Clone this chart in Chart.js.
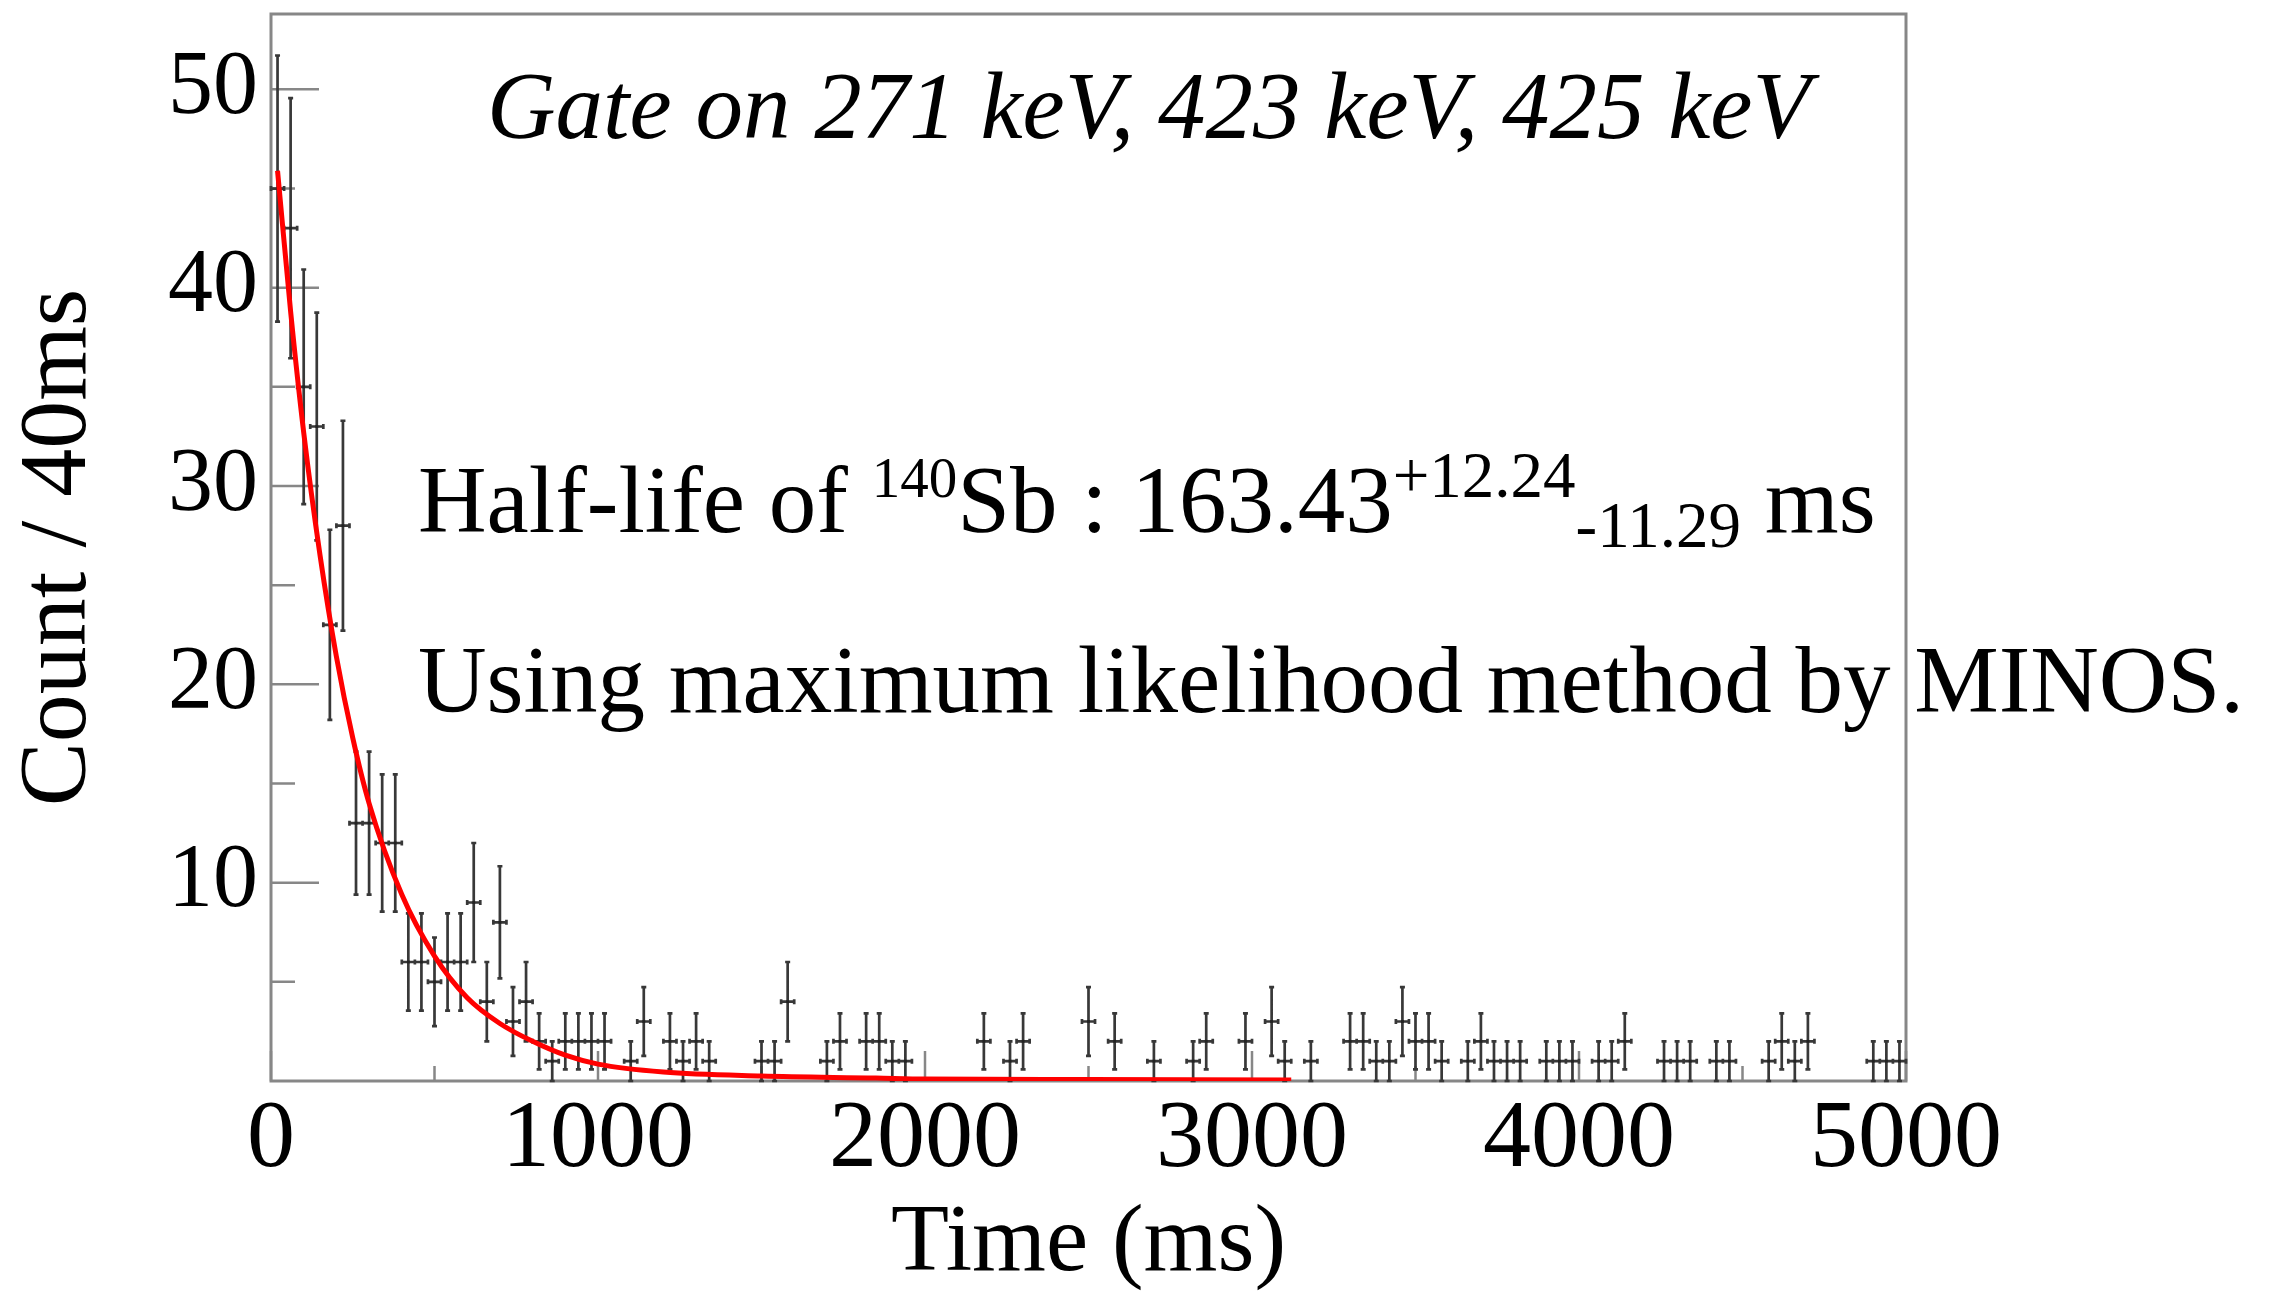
<!DOCTYPE html>
<html>
<head>
<meta charset="utf-8">
<title>140Sb half-life</title>
<script src="https://cdn.jsdelivr.net/npm/chart.js@4.4.1/dist/chart.umd.min.js"></script>
<style>
  html, body { margin: 0; padding: 0; background: #fff; }
  #wrap { width: 2285px; height: 1295px; }
</style>
</head>
<body>
<div id="wrap"><canvas id="decay" width="2285" height="1295"></canvas></div>
<script>
// counts per 40 ms bin (first bin is 0-40 ms)
const binWidth = 40;
const counts = [
  45, 43, 35, 33, 23, 28, 13, 13, 12, 12,
  6, 6, 5, 6, 6, 9, 4, 8, 3, 4,
  2, 1, 2, 2, 2, 2, 0, 1, 3, 0,
  2, 1, 2, 1, 0, 0, 0, 1, 1, 4,
  0, 0, 1, 2, 0, 2, 2, 1, 1, 0,
  0, 0, 0, 0, 2, 0, 1, 2, 0, 0,
  0, 0, 3, 0, 2, 0, 0, 1, 0, 0,
  1, 2, 0, 0, 2, 0, 3, 1, 0, 1,
  0, 0, 2, 2, 1, 1, 3, 2, 2, 1,
  0, 1, 2, 1, 1, 1, 0, 1, 1, 1,
  0, 1, 1, 2, 0, 0, 1, 1, 1, 0,
  1, 1, 0, 0, 1, 2, 1, 2, 0, 0,
  0, 0, 1, 1, 1
];

// red fit curve
const fitTime = [20, 60, 100, 150, 200, 250, 300, 400, 500, 600, 700, 800, 900, 1000, 1200, 1500, 1850, 2000, 2500, 3120];
const fitCount = [45.9, 38.8, 32.7, 26.5, 21.4, 17.3, 14.0, 9.4, 6.3, 4.2, 2.9, 2.0, 1.3, 0.85, 0.45, 0.25, 0.15, 0.1, 0.07, 0.05];

const xTicks = [0, 1000, 2000, 3000, 4000, 5000];
const xMinorTicks = [500, 1500, 2500, 3500, 4500];
const yTicks = [10, 20, 30, 40, 50];
const yMinorTicks = [5, 15, 25, 35, 45];

const gateLabel = 'Gate on 271 keV, 423 keV, 425 keV';
const halfLifeParts = [
  { text: 'Half-life of ', kind: 'main' },
  { text: '140', kind: 'sup' },
  { text: 'Sb : 163.43', kind: 'main' },
  { text: '+12.24', kind: 'sup' },
  { text: '-11.29', kind: 'sub' },
  { text: ' ms', kind: 'main' },
];
const methodLabel = 'Using maximum likelihood method by MINOS.';

const serif = 'Liberation Serif';

// empty bins are not drawn, like ROOT does
const points = counts
  .map((c, i) => ({ x: binWidth / 2 + i * binWidth, y: c }))
  .filter((p) => p.y > 0);
const fitPoints = fitTime.map((t, i) => ({ x: t, y: fitCount[i] }));

// grey ROOT frame with the tick marks pointing inwards
const frame = {
  id: 'frame',
  beforeDatasetsDraw(chart) {
    const { ctx, chartArea: a, scales: { x, y } } = chart;
    ctx.save();
    ctx.strokeStyle = '#878787';
    ctx.lineWidth = 3;
    ctx.strokeRect(a.left, a.top, a.right - a.left, a.bottom - a.top);
    ctx.lineWidth = 2.5;
    ctx.beginPath();
    yTicks.forEach((v) => {
      const py = y.getPixelForValue(v);
      ctx.moveTo(a.left, py);
      ctx.lineTo(a.left + 48, py);
    });
    yMinorTicks.forEach((v) => {
      const py = y.getPixelForValue(v);
      ctx.moveTo(a.left, py);
      ctx.lineTo(a.left + 24, py);
    });
    xTicks.forEach((v) => {
      const px = x.getPixelForValue(v);
      ctx.moveTo(px, a.bottom);
      ctx.lineTo(px, a.bottom - 30);
    });
    xMinorTicks.forEach((v) => {
      const px = x.getPixelForValue(v);
      ctx.moveTo(px, a.bottom);
      ctx.lineTo(px, a.bottom - 15);
    });
    ctx.stroke();
    ctx.restore();
  },
};

// poisson error bars (sqrt N) and bin-width bars, with small caps
const errorBars = {
  id: 'errorBars',
  beforeDatasetsDraw(chart) {
    const { ctx, scales: { x, y } } = chart;
    const cap = 2.5;
    ctx.save();
    ctx.strokeStyle = '#383838';
    ctx.lineWidth = 2.7;
    ctx.beginPath();
    chart.data.datasets[0].data.forEach((p) => {
      const err = Math.sqrt(p.y);
      const px = x.getPixelForValue(p.x);
      const x0 = x.getPixelForValue(p.x - binWidth / 2);
      const x1 = x.getPixelForValue(p.x + binWidth / 2);
      const py = y.getPixelForValue(p.y);
      const yTop = y.getPixelForValue(p.y + err);
      const yBot = y.getPixelForValue(Math.max(p.y - err, 0));
      ctx.moveTo(px, yTop);
      ctx.lineTo(px, yBot);
      ctx.moveTo(x0, py);
      ctx.lineTo(x1, py);
      ctx.moveTo(px - cap, yTop);
      ctx.lineTo(px + cap, yTop);
      ctx.moveTo(px - cap, yBot);
      ctx.lineTo(px + cap, yBot);
      ctx.moveTo(x0, py - cap);
      ctx.lineTo(x0, py + cap);
      ctx.moveTo(x1, py - cap);
      ctx.lineTo(x1, py + cap);
    });
    ctx.stroke();
    ctx.restore();
  },
};

// the text written over the plot
const annotations = {
  id: 'annotations',
  afterDraw(chart) {
    const { ctx } = chart;
    ctx.save();
    ctx.fillStyle = '#000';
    ctx.textBaseline = 'alphabetic';
    ctx.textAlign = 'left';

    ctx.font = `italic 95px "${serif}"`;
    ctx.fillText(gateLabel, 487, 138);

    let xPos = 418;
    halfLifeParts.forEach((part, i) => {
      let yPos = 532;
      if (part.kind === 'main') {
        ctx.font = `95px "${serif}"`;
      } else {
        // the isotope number is a bit smaller than the error values
        ctx.font = `${i === 1 ? 57 : 65}px "${serif}"`;
        yPos = part.kind === 'sup' ? 497 : 547;
      }
      ctx.fillText(part.text, xPos, yPos);
      xPos += ctx.measureText(part.text).width;
    });

    ctx.font = `95px "${serif}"`;
    ctx.fillText(methodLabel, 418, 712);
    ctx.restore();
  },
};

new Chart(document.getElementById('decay'), {
  type: 'scatter',
  data: {
    datasets: [
      {
        label: 'Count / 40ms',
        data: points,
        showLine: false,
        pointStyle: 'rect',
        pointRadius: 2,
        pointBackgroundColor: '#222',
        pointBorderWidth: 0,
        order: 1,
      },
      {
        label: 'fit',
        data: fitPoints,
        showLine: true,
        borderColor: '#ff0000',
        borderWidth: 5,
        pointRadius: 0,
        cubicInterpolationMode: 'monotone',
        order: 0,
      },
    ],
  },
  options: {
    responsive: false,
    devicePixelRatio: 1,
    animation: false,
    layout: { padding: { left: 0, right: 379, top: 14, bottom: 0 } },
    plugins: {
      legend: { display: false },
      tooltip: { enabled: false },
    },
    scales: {
      x: {
        type: 'linear',
        min: 0,
        max: 5000,
        afterBuildTicks: (s) => {
          s.ticks = xTicks.map((v) => ({ value: v }));
        },
        afterFit: (s) => {
          s.height = 214;
          s.paddingLeft = 0;
          s.paddingRight = 0;
        },
        grid: { display: false, drawTicks: false },
        border: { display: false },
        ticks: {
          autoSkip: false,
          maxRotation: 0,
          padding: 2,
          color: '#000',
          font: { family: serif, size: 96 },
          callback: (v) => String(v),
        },
        title: {
          display: true,
          text: 'Time (ms)',
          color: '#000',
          font: { family: serif, size: 95, lineHeight: 1.05 },
          padding: 0,
        },
      },
      y: {
        type: 'linear',
        min: 0,
        max: 53.8,
        afterBuildTicks: (s) => {
          s.ticks = yTicks.map((v) => ({ value: v }));
        },
        afterFit: (s) => {
          s.width = 271;
          s.paddingTop = 0;
          s.paddingBottom = 0;
        },
        grid: { display: false, drawTicks: false },
        border: { display: false },
        ticks: {
          autoSkip: false,
          padding: 13,
          color: '#000',
          font: { family: serif, size: 90 },
          callback: (v) => String(v),
        },
        title: {
          display: true,
          text: 'Count / 40ms',
          color: '#000',
          font: { family: serif, size: 96 },
          padding: { top: 2 },
        },
      },
    },
  },
  plugins: [frame, errorBars, annotations],
});
</script>
</body>
</html>
